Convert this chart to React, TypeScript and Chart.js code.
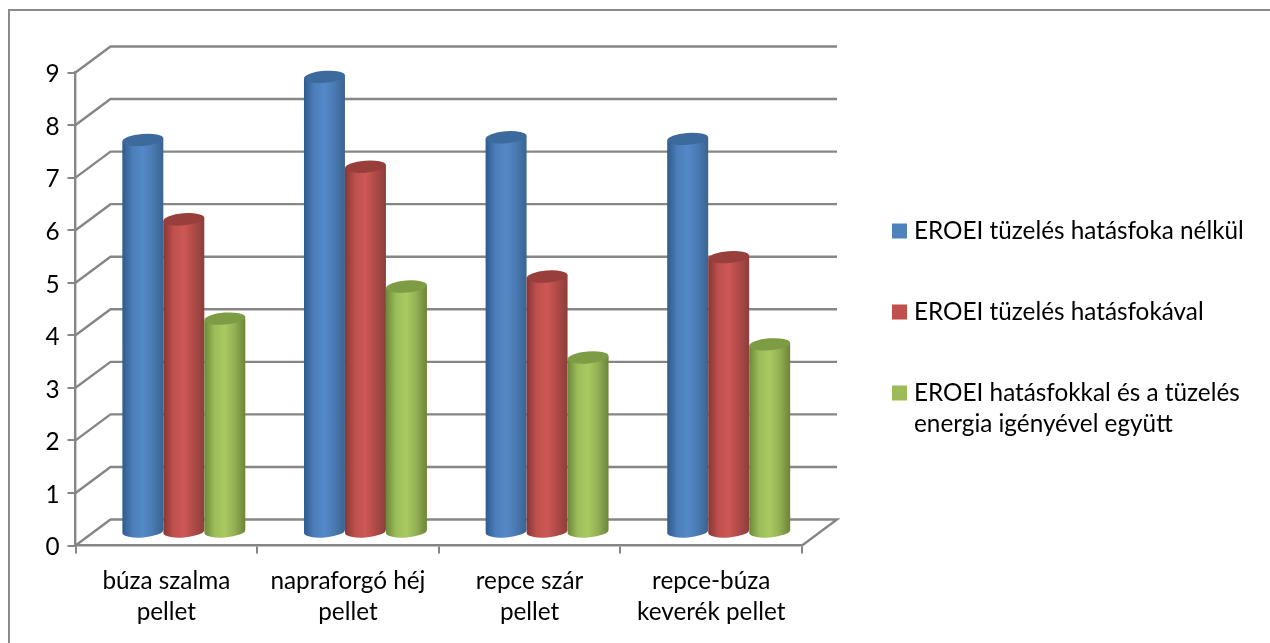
import React, { useEffect, useRef } from "react";
import { Chart, registerables } from "chart.js";

Chart.register(...registerables);

const categories = [
  ["búza szalma", "pellet"],
  ["napraforgó héj", "pellet"],
  ["repce szár", "pellet"],
  ["repce-búza", "keverék pellet"],
];
const seriesNames = [
  "EROEI tüzelés hatásfoka nélkül",
  "EROEI tüzelés hatásfokával",
  "EROEI hatásfokkal és a tüzelés energia igényével együtt",
];
const legendLines = [
  ["EROEI tüzelés hatásfoka nélkül"],
  ["EROEI tüzelés hatásfokával"],
  ["EROEI hatásfokkal és a tüzelés", "energia igényével együtt"],
];
const withoutEfficiency = [7.47, 8.67, 7.52, 7.49];
const withEfficiency = [5.96, 6.96, 4.87, 5.24];
const withFiringEnergy = [4.07, 4.68, 3.33, 3.58];

const FONT = "Lato, Carlito, sans-serif";
const AXIS_GRAY = "#868686";
const DEPTH_X = 35;
const DEPTH_Y = 26;

// Side shading and cap colour of each cylinder series
const palettes = [
  { edgeL: "#2f5a8c", mid: "#4c7eba", light: "#5488c8", shade: "#4a7ab2", edgeR: "#3a6390", cap: "#3d6a9c", swatch: "#4f81bd" },
  { edgeL: "#863735", mid: "#bf504d", light: "#cd5856", shade: "#b04a47", edgeR: "#8a3f3c", cap: "#983e3b", swatch: "#c0504d" },
  { edgeL: "#6d8839", mid: "#9dbd5a", light: "#a9c961", shade: "#93b053", edgeR: "#6c8439", cap: "#7d9c43", swatch: "#9bbb59" },
];

// Frame, 3D side wall, back wall and floor behind the cylinders
const wallsPlugin = {
  id: "walls",
  beforeDraw(chart: any) {
    const { ctx, scales } = chart;
    const left = scales.x.left;
    const right = scales.x.right;
    ctx.save();
    ctx.strokeStyle = "#8c8c8c";
    ctx.lineWidth = 2;
    ctx.beginPath();
    ctx.moveTo(9, 643);
    ctx.lineTo(9, 10);
    ctx.lineTo(1270, 10);
    ctx.stroke();

    ctx.strokeStyle = AXIS_GRAY;
    ctx.lineWidth = 2.4;
    for (const tick of scales.y.ticks) {
      const y = scales.y.getPixelForValue(tick.value);
      ctx.beginPath();
      ctx.moveTo(left, y);
      ctx.lineTo(left + DEPTH_X, y - DEPTH_Y);
      ctx.lineTo(right + DEPTH_X, y - DEPTH_Y);
      if (tick.value === 0) ctx.lineTo(right, y);
      ctx.stroke();
    }
    ctx.restore();
  },
};

// Paints each bar element as a tilted, shaded cylinder standing mid-way into the floor
const cylinderPlugin = {
  id: "cylinders",
  afterDatasetsDraw(chart: any) {
    const { ctx } = chart;
    const tilt = (-4.5 * Math.PI) / 180;
    chart.data.datasets.forEach((_: any, di: number) => {
      const p = palettes[di];
      chart.getDatasetMeta(di).data.forEach((bar: any) => {
        const rx = bar.width / 2;
        const ry = 6;
        const cx = bar.x + DEPTH_X / 2;
        const top = bar.y - DEPTH_Y / 2;
        const bottom = bar.base - DEPTH_Y / 2;
        const lift = rx * Math.sin(tilt);
        const g = ctx.createLinearGradient(cx - rx, 0, cx + rx, 0);
        g.addColorStop(0, p.edgeL);
        g.addColorStop(0.25, p.mid);
        g.addColorStop(0.5, p.light);
        g.addColorStop(0.74, p.shade);
        g.addColorStop(1, p.edgeR);
        ctx.save();
        ctx.fillStyle = g;
        ctx.beginPath();
        ctx.moveTo(cx - rx, top - lift);
        ctx.lineTo(cx + rx, top + lift);
        ctx.lineTo(cx + rx, bottom + lift);
        ctx.ellipse(cx, bottom, rx, ry, tilt, 0, Math.PI);
        ctx.closePath();
        ctx.fill();
        ctx.fillStyle = p.cap;
        ctx.beginPath();
        ctx.ellipse(cx, top, rx, ry, tilt, 0, Math.PI * 2);
        ctx.fill();
        ctx.restore();
      });
    });
  },
};

// Value-axis numbers, set slightly below the tick position the way the font sits optically
const valueLabelsPlugin = {
  id: "valueLabels",
  afterDraw(chart: any) {
    const { ctx, scales } = chart;
    ctx.save();
    ctx.font = `24.3px ${FONT}`;
    ctx.fillStyle = "#000000";
    ctx.textAlign = "right";
    ctx.textBaseline = "middle";
    for (const tick of scales.y.ticks) {
      ctx.fillText(tick.label, scales.y.right - 16, scales.y.getPixelForValue(tick.value) + 2);
    }
    ctx.restore();
  },
};

// Legend to the right of the plot, with wrapped entries hanging off the first line
const sideLegendPlugin = {
  id: "sideLegend",
  afterDraw(chart: any) {
    const { ctx } = chart;
    const rows = [231, 312, 393];
    ctx.save();
    ctx.font = `24.3px ${FONT}`;
    ctx.textBaseline = "middle";
    legendLines.forEach((lines, i) => {
      ctx.fillStyle = palettes[i].swatch;
      ctx.fillRect(892, rows[i] - 7.5, 15, 15);
      ctx.fillStyle = "#000000";
      lines.forEach((line, k) => ctx.fillText(line, 914, rows[i] + k * 31));
    });
    ctx.restore();
  },
};

export default function App() {
  const ref = useRef<HTMLCanvasElement>(null);
  useEffect(() => {
    const series = [withoutEfficiency, withEfficiency, withFiringEnergy];
    const chart = new Chart(ref.current!, {
      type: "bar",
      data: {
        labels: categories as any,
        datasets: series.map((data, i) => ({
          label: seriesNames[i],
          data,
          backgroundColor: "rgba(0,0,0,0)",
          borderWidth: 0,
          categoryPercentage: 0.677,
          barPercentage: 1,
        })),
      },
      options: {
        animation: false,
        responsive: false,
        layout: { padding: { top: 72.5, right: 468, left: 0, bottom: 0 } },
        plugins: { legend: { display: false }, tooltip: { enabled: false }, title: { display: false } },
        scales: {
          x: {
            afterFit: (s: any) => { s.height = 97.5; },
            grid: { drawOnChartArea: false, drawTicks: true, tickLength: 8, color: AXIS_GRAY, lineWidth: 2 },
            border: { display: true, color: AXIS_GRAY, width: 2.4 },
            ticks: { color: "#000000", font: { family: FONT, size: 24.3, lineHeight: 1.24 }, padding: 13, maxRotation: 0, autoSkip: false },
          },
          y: {
            min: 0,
            max: 9,
            afterFit: (s: any) => { s.width = 75.5; },
            grid: { drawOnChartArea: false, drawTicks: true, tickLength: 8, color: AXIS_GRAY, lineWidth: 2 },
            border: { display: true, color: AXIS_GRAY, width: 2.4 },
            ticks: { stepSize: 1, color: "rgba(0,0,0,0)", font: { family: FONT, size: 24.3 }, padding: 8 },
          },
        },
      },
      plugins: [wallsPlugin, cylinderPlugin, valueLabelsPlugin, sideLegendPlugin],
    } as any);
    return () => chart.destroy();
  }, []);
  return (
    <div style={{ position: "fixed", left: 0, top: 0, width: 1270, height: 643, overflow: "hidden", background: "#ffffff" }}>
      <canvas ref={ref} width={1270} height={643} style={{ display: "block" }} />
    </div>
  );
}
